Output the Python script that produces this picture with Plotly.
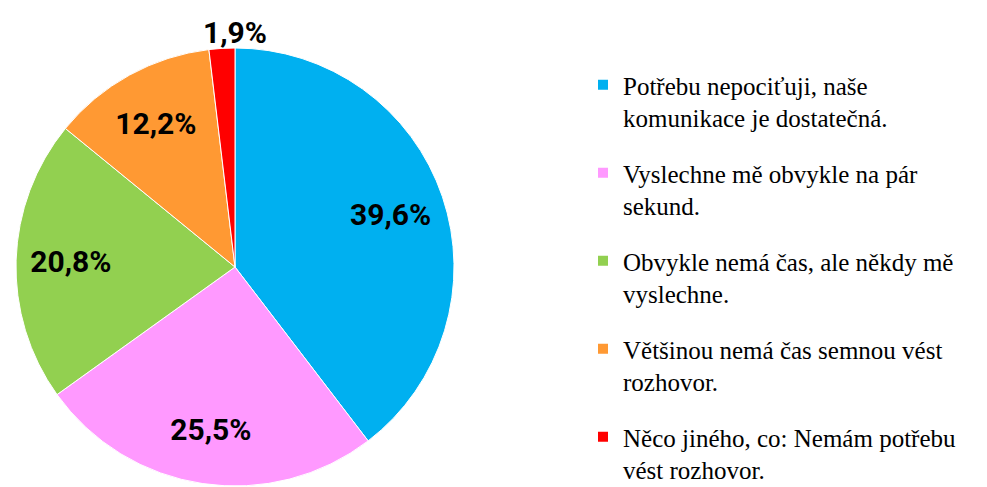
import plotly.graph_objects as go

labels = [
    "Potřebu nepociťuji, naše<br>komunikace je dostatečná.",
    "Vyslechne mě obvykle na pár<br>sekund.",
    "Obvykle nemá čas, ale někdy mě<br>vyslechne.",
    "Většinou nemá čas semnou vést<br>rozhovor.",
    "Něco jiného, co: Nemám potřebu<br>vést rozhovor.",
]
values = [39.6, 25.5, 20.8, 12.2, 1.9]
colors = ["#00B0F0", "#FF99FF", "#92D050", "#FF9933", "#FF0000"]

total = sum(values)
# the thin last slice gets its label above the pie
small_label = f"{values[-1] / total * 100:.1f}".replace(".", ",") + "%"
text_pos = ["inside", "inside", "inside", "inside", "none"]

domain = dict(x=[8/987, 446/987], y=[1-481/487, 1-2/487])
label_font = dict(family="Roboto", size=30, weight="bold")

# main pie: slices
fig = go.Figure(go.Pie(
    labels=labels,
    values=values,
    sort=False,
    direction="clockwise",
    marker=dict(colors=colors, line=dict(color="white", width=1)),
    textinfo="none",
    domain=domain,
    title=dict(text=small_label, position="top center",
               font=dict(**label_font, color="black")),
    hoverinfo="label+percent",
    showlegend=False,
))

# transparent ring overlay so that inside labels sit near the rim
fig.add_trace(go.Pie(
    labels=labels,
    values=values,
    sort=False,
    direction="clockwise",
    hole=0.5,
    marker=dict(colors=["rgba(0,0,0,0)"] * 5, line=dict(width=0)),
    texttemplate="%{percent:.1%}",
    textposition=text_pos,
    insidetextorientation="horizontal",
    textfont=dict(**label_font, color="black"),
    domain=domain,
    title=dict(text=small_label, position="top center",
               font=dict(**label_font, color="rgba(0,0,0,0)")),
    showlegend=False,
    hoverinfo="skip",
))

# legend entries (one group each so the gap between entries can be set)
for i, (lab, col) in enumerate(zip(labels, colors)):
    fig.add_trace(go.Scatter(
        x=[None], y=[None], mode="markers", name=lab,
        marker=dict(symbol="square", size=10, color=col),
        legendgroup=f"g{i}", showlegend=True, hoverinfo="skip",
    ))

fig.update_layout(
    width=987, height=487,
    margin=dict(l=0, r=0, t=0, b=0, autoexpand=False),
    paper_bgcolor="white",
    plot_bgcolor="white",
    separators=",.",
    showlegend=True,
    xaxis=dict(visible=False),
    yaxis=dict(visible=False),
    legend=dict(
        x=575/987, y=1-54/487, xanchor="left", yanchor="top",
        valign="top",
        font=dict(family="Liberation Serif", size=25, color="black"),
        tracegroupgap=20,
    ),
)
fig.write_html("out.html")
